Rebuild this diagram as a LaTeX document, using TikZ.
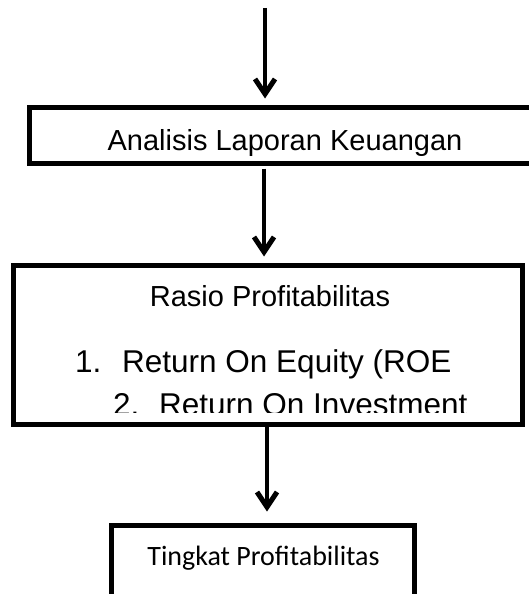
\documentclass[tikz,border=0pt]{standalone}
\usepackage{fontspec}
\setmainfont{Liberation Sans}
\newfontfamily\carlito{Carlito}
\usepackage{tikz}
\usetikzlibrary{arrows.meta,positioning,calc}

\begin{document}
\begin{tikzpicture}[x=1pt, y=-1pt,
    box/.style={rectangle, draw=black, line width=5pt, inner sep=0pt},
    txt/.style={anchor=base, inner sep=0pt, font=\fontsize{29}{34}\selectfont},
    item/.style={txt, anchor=base west, font=\fontsize{31.5}{36}\selectfont},
    arr/.style={-{Straight Barb[length=15pt, width=20pt, line width=5pt]}, line width=3.5pt}]

    \useasboundingbox (0,0) rectangle (529,594);
    \clip (0,0) rectangle (529,594);

    % Boxes
    \node[box, minimum width=542, minimum height=56] (lap) at (300,135) {};
    \node[box, minimum width=509, minimum height=159] (rasio) at (267.5,344.5) {};
    \node[box, minimum width=303, minimum height=75] (tingkat) at (262.5,562.5) {};

    % Texts
    \node[txt] (lapText) at (285,150) {Analisis Laporan Keuangan};
    \node[txt] (rasioText) at (270,306) {Rasio Profitabilitas};
    \node[item] (num1) at (75,372) {1.};
    \node[item] (roe) at (122,372) {Return On Equity (ROE};
    \begin{scope}
        \clip (0,380) rectangle (529,412);
        \node[item] (num2) at (113,415) {2.};
        \node[item] (roi) at (159,415) {Return On Investment};
    \end{scope}
    \node[txt, font=\carlito\fontsize{28}{34}\selectfont] (tingkatText) at (263.5,565) {Tingkat Profitabilitas};

    % Connections
    \coordinate (start) at (265,8);
    \draw[arr, shorten >=6pt] (start) -- (start |- lap.north);
    \draw[arr, shorten <=3pt, shorten >=6pt] (lap.south -| 264,0) -- (rasio.north -| 264,0);
    \draw[arr, shorten >=11pt] (rasio.south -| 267,0) -- (tingkat.north -| 267,0);
\end{tikzpicture}
\end{document}
